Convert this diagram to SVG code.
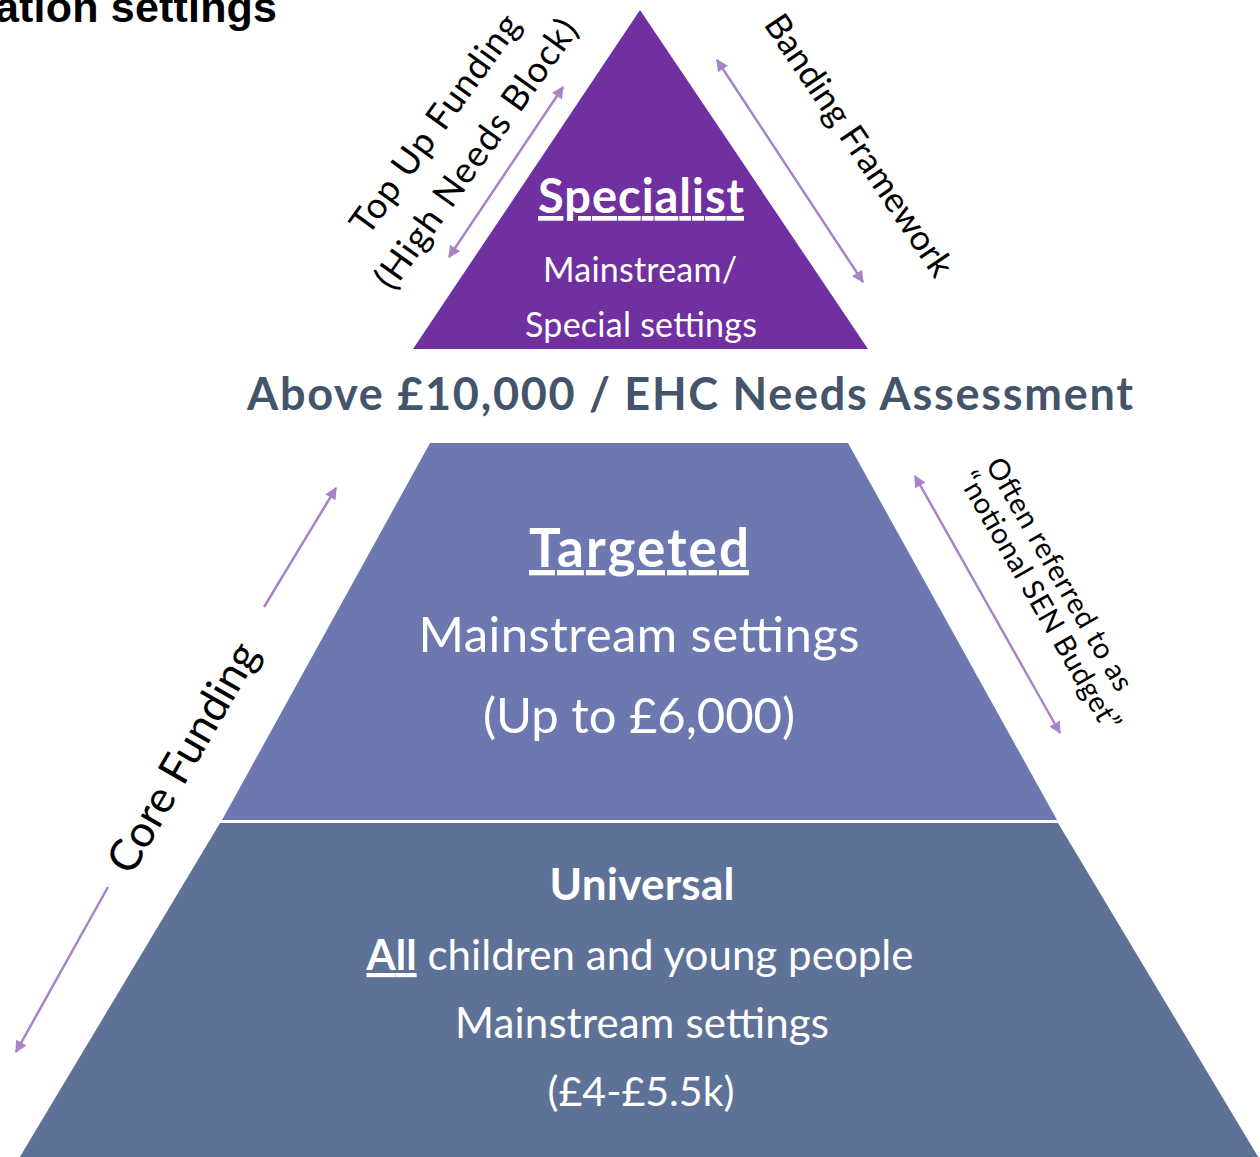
<svg xmlns="http://www.w3.org/2000/svg" width="1260" height="1157" viewBox="0 0 1260 1157">
<defs>
<style>
.w{fill:#fff;font-family:Lato,"Liberation Sans",sans-serif;text-anchor:middle}
.b{font-weight:bold}
.u{text-decoration:underline}
.k{fill:#000;font-family:Lato,"Liberation Sans",sans-serif;text-anchor:middle}
.arr{stroke:#A883C8;stroke-width:2.5;fill:none;marker-end:url(#ah)}
.arr2{stroke:#A883C8;stroke-width:2.5;fill:none;marker-start:url(#ah);marker-end:url(#ah)}
</style>
<marker id="ah" viewBox="0 0 10 10" refX="9" refY="5" markerWidth="15" markerHeight="12" markerUnits="userSpaceOnUse" orient="auto-start-reverse">
<path d="M0,0 L10,5 L0,10 z" fill="#A883C8"/>
</marker>
</defs>
<rect width="1260" height="1157" fill="#fff"/>
<text x="277" y="22" font-family="Liberation Sans,Arial,sans-serif" font-weight="bold" font-size="43" text-anchor="end" fill="#000" textLength="282">ation settings</text>

<g id="specialist">
<polygon points="640,10 413,349 868,349" fill="#7030A0"/>
<text class="w b u" x="641" y="213" font-size="47" textLength="206">Specialist</text>
<text class="w" x="640" y="282" font-size="34" textLength="194">Mainstream/</text>
<text class="w" x="641" y="337" font-size="34" textLength="232">Special settings</text>
</g>

<g id="threshold">
<text x="690" y="410" font-family="Lato,'Liberation Sans',sans-serif" font-weight="bold" font-size="45" fill="#44546A" text-anchor="middle" textLength="886">Above £10,000 / EHC Needs Assessment</text>
</g>

<g id="targeted">
<polygon points="430,443 848,443 1057,820 222,820" fill="#6D78B1"/>
<text class="w b u" x="639" y="567" font-size="53" textLength="220">Targeted</text>
<text class="w" x="639" y="652" font-size="49" textLength="441">Mainstream settings</text>
<text class="w" x="639" y="733" font-size="49" textLength="312">(Up to £6,000)</text>
</g>

<g id="universal">
<polygon points="220,823 1058,823 1260,1160 18,1160" fill="#5E7298"/>
<text class="w b" x="642" y="900" font-size="44" textLength="185">Universal</text>
<text class="w" x="640" y="970" font-size="42" textLength="547"><tspan class="b u">All</tspan> children and young people</text>
<text class="w" x="642" y="1038" font-size="42" textLength="374">Mainstream settings</text>
<text class="w" x="641" y="1106" font-size="41" textLength="187">(£4-£5.5k)</text>
</g>

<g id="connectors">
<line class="arr2" x1="449" y1="257" x2="563" y2="87"/>
<line class="arr2" x1="717" y1="60" x2="863" y2="282"/>
<line class="arr2" x1="915" y1="476" x2="1060" y2="733"/>
<line class="arr" x1="264" y1="607" x2="336" y2="488"/>
<line class="arr" x1="108" y1="887" x2="16" y2="1052"/>
</g>

<g id="labels">
<text class="k" font-size="36" transform="translate(445,131) rotate(-54)" textLength="262">Top Up Funding</text>
<text class="k" font-size="36" transform="translate(486,161) rotate(-54.5)" textLength="322">(High Needs Block)</text>
<text class="k" font-size="35" transform="translate(849,152) rotate(56)" textLength="308">Banding Framework</text>
<text class="k" font-size="29" transform="translate(1051,579) rotate(60)" textLength="264">Often referred to as</text>
<text class="k" font-size="29" transform="translate(1031,606) rotate(60)" textLength="294">“notional SEN Budget”</text>
<text class="k" font-size="44" transform="translate(196,765) rotate(-60)" textLength="258">Core Funding</text>
</g>
</svg>
